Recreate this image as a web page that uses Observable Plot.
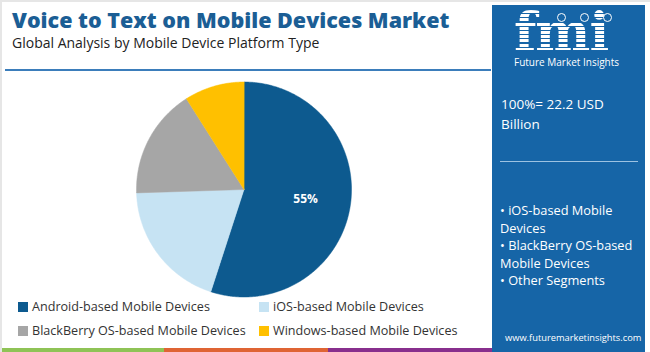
<!DOCTYPE html>
<html>
<head>
<meta charset="utf-8">
<script src="https://cdn.jsdelivr.net/npm/d3@7"></script>
<script src="https://cdn.jsdelivr.net/npm/@observablehq/plot@0.6"></script>
<style>
  html, body { margin: 0; padding: 0; background: #fff; }
  #root { position: relative; width: 650px; height: 352px; overflow: hidden; background: #fff; font-family: "Open Sans", "DejaVu Sans", sans-serif; box-sizing: border-box; border-top: 2px solid #e6e6e6; border-left: 2px solid #e6e6e6; }
  .abs { position: absolute; white-space: nowrap; }
  #title { left: 10px; top: 3px; font-size: 21.5px; font-weight: 800; color: #1b5e95; }
  #subtitle { left: 10px; top: 31px; font-size: 14px; color: #222; }
  #rule { left: 3px; top: 67px; width: 486px; height: 2px; background: #3b7dbb; }
  #panel { left: 490px; top: 3px; width: 153px; height: 350px; background: #1665a7; }
  #logo { left: 512px; top: 8px; height: 44px; font-family: "DejaVu Serif", serif; font-weight: bold; font-size: 52px; line-height: 44px; letter-spacing: -1px;
          background: repeating-linear-gradient(#fff 0 3px, transparent 3px 4.2px); -webkit-background-clip: text; background-clip: text; color: transparent; }
  .dot { position: absolute; width: 9px; height: 9px; border-radius: 50%; border: 1.5px solid #fff; box-sizing: border-box; }
  #logosub { left: 512px; top: 54px; font-size: 10px; line-height: 12px; color: #fff; }
  #total { left: 499px; top: 92px; font-size: 13.5px; color: #fff; line-height: 20px; white-space: normal; width: 140px; }
  #prule { left: 498px; top: 159px; width: 138px; height: 1px; background: #9cc2e2; }
  #bullets { left: 498px; top: 200px; font-size: 12.8px; color: #fff; line-height: 17.5px; }
  #web { left: 503px; top: 329px; font-size: 9.3px; color: #fff; }
  #legend { left: 16px; top: 296px; font-size: 12.6px; color: #333; }
  .lg { position: absolute; display: flex; align-items: center; white-space: nowrap; }
  .sw { width: 10px; height: 10px; margin-right: 4px; }
  .strip { position: absolute; top: 346px; height: 4px; }
  #plot { position: absolute; left: -2px; top: 70px; }
</style>
</head>
<body>
<div id="root">
  <div class="abs" id="title"></div>
  <div class="abs" id="subtitle"></div>
  <div class="abs" id="rule"></div>
  <div class="abs" id="panel"></div>
  <div class="abs" id="logo">fmi</div>
  <div class="dot" style="left:555px; top:11px"></div>
  <div class="dot" style="left:578px; top:11px"></div>
  <div class="dot" style="left:601px; top:11px"></div>
  <div class="abs" id="logosub">Future Market Insights</div>
  <div class="abs" id="total"></div>
  <div class="abs" id="prule"></div>
  <div class="abs" id="bullets"></div>
  <div class="abs" id="web"></div>
  <div class="abs" id="legend"></div>
  <div id="plot"></div>
</div>
<script>
const titleText = "Voice to Text on Mobile Devices Market";
const subtitleText = "Global Analysis by Mobile Device Platform Type";
const categories = ["Android-based Mobile Devices", "iOS-based Mobile Devices", "BlackBerry OS-based Mobile Devices", "Windows-based Mobile Devices"];
const shares = [55, 19.5, 16.5, 9];
const sliceLabels = ["55%", "", "", ""];
const colors = ["#0d5a8f", "#c6e3f3", "#a6a6a6", "#ffc000"];
const totalText = "100%= 22.2 USD Billion";
const bulletItems = ["• iOS-based Mobile<br>Devices", "• BlackBerry OS-based<br>Mobile Devices", "• Other Segments"];
const websiteText = "www.futuremarketinsights.com";
const stripColors = ["#8fc356", "#df6434", "#882f8d"];

document.getElementById("title").textContent = titleText;
document.getElementById("subtitle").textContent = subtitleText;
document.getElementById("total").textContent = totalText;
document.getElementById("bullets").innerHTML = bulletItems.join("<br>");
document.getElementById("web").textContent = websiteText;

// bottom strip
stripColors.forEach((c, i) => {
  const d = document.createElement("div");
  d.className = "strip";
  d.style.left = (i * 164 - 2) + "px";
  d.style.width = "164px";
  d.style.background = c;
  document.getElementById("root").appendChild(d);
});

// legend
const legend = document.getElementById("legend");
categories.forEach((c, i) => {
  const item = document.createElement("div");
  item.className = "lg";
  item.style.left = (i % 2 === 0 ? 0 : 241) + "px";
  item.style.top = (Math.floor(i / 2) * 24) + "px";
  item.innerHTML = `<div class="sw" style="background:${colors[i]}"></div><span>${c}</span>`;
  legend.appendChild(item);
});

// pie wedges as filled polygons
const arcs = d3.pie().sort(null).value(d => d.value)(categories.map((c, i) => ({cat: c, value: shares[i], label: sliceLabels[i]})));
const pts = [];
arcs.forEach(a => {
  pts.push({cat: a.data.cat, x: 0, y: 0});
  const n = Math.max(2, Math.ceil((a.endAngle - a.startAngle) / 0.01));
  for (let k = 0; k <= n; k++) {
    const t = a.startAngle + (a.endAngle - a.startAngle) * k / n;
    pts.push({cat: a.data.cat, x: Math.sin(t), y: Math.cos(t)});
  }
});
const labelPts = arcs.filter(a => a.data.label).map(a => {
  const m = (a.startAngle + a.endAngle) / 2;
  return {x: 0.58 * Math.sin(m), y: 0.58 * Math.cos(m), text: a.data.label};
});

const chart = Plot.plot({
  width: 490,
  height: 260,
  margin: 0,
  x: {domain: [-1, 1], range: [136, 351], axis: null},
  y: {domain: [-1, 1], range: [224.5, 9.5], axis: null},
  color: {domain: categories, range: colors},
  marks: [
    Plot.line(pts, {x: "x", y: "y", z: "cat", fill: "cat", stroke: "cat", strokeWidth: 0.5, curve: "linear-closed"}),
    Plot.text(labelPts, {x: "x", y: "y", text: "text", fill: "white", fontWeight: "bold", fontSize: 12, fontFamily: "Open Sans, sans-serif"})
  ]
});
document.getElementById("plot").appendChild(chart);
</script>
</body>
</html>
